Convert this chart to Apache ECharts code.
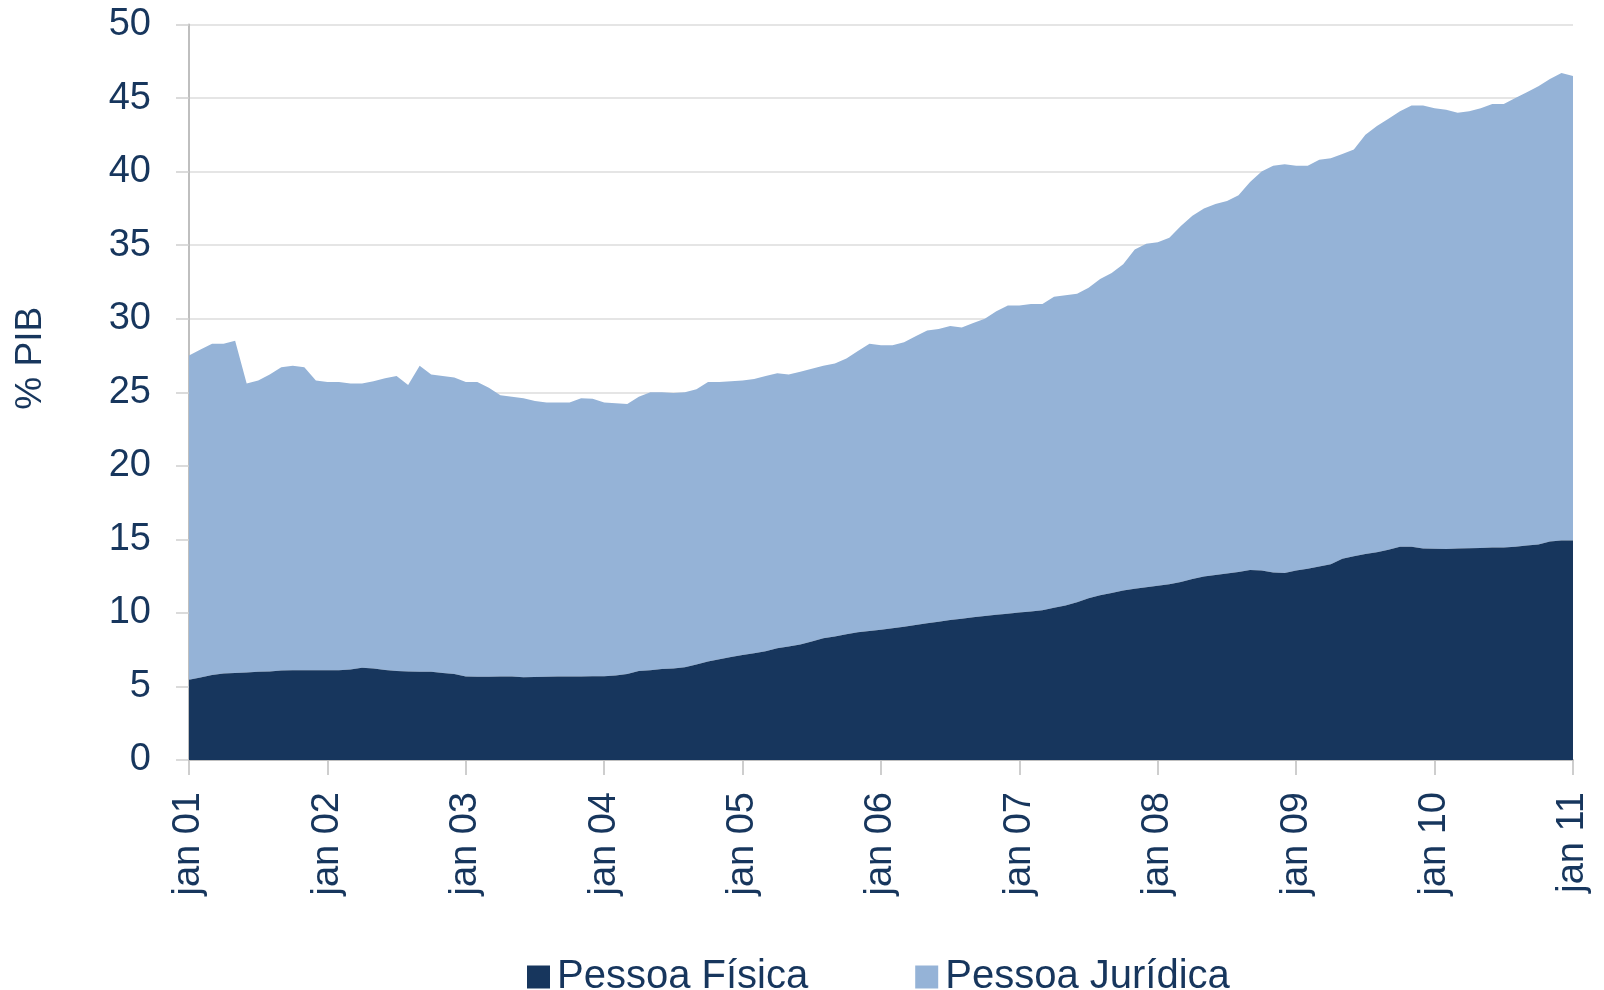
<!DOCTYPE html>
<html>
<head>
<meta charset="utf-8">
<style>
  html, body { margin: 0; padding: 0; background: #ffffff; }
  #chart { width: 1604px; height: 990px; }
</style>
<script src="https://cdn.jsdelivr.net/npm/echarts@6/dist/echarts.min.js"></script>
</head>
<body>
<div id="chart"></div>
<script>
// Month abbreviations (Portuguese) and years covered: jan 01 .. jan 11
const monthNames = ['jan','fev','mar','abr','mai','jun','jul','ago','set','out','nov','dez'];
const years = ['01','02','03','04','05','06','07','08','09','10','11'];

// Pessoa Física (% PIB), monthly from jan 01 to jan 11
const pessoaFisica = [
  5.45, 5.6, 5.78, 5.88, 5.92, 5.95, 6.0, 6.02, 6.08, 6.1, 6.1, 6.1,
  6.1, 6.1, 6.15, 6.27, 6.22, 6.12, 6.05, 6.02, 6.0, 6.0, 5.92, 5.85,
  5.68, 5.66, 5.66, 5.67, 5.68, 5.63, 5.64, 5.66, 5.67, 5.68, 5.68, 5.7,
  5.7, 5.75, 5.85, 6.05, 6.1, 6.18, 6.22, 6.3, 6.5, 6.7, 6.85, 7.0,
  7.14, 7.25, 7.4, 7.6, 7.72, 7.85, 8.05, 8.27, 8.4, 8.55, 8.68, 8.77,
  8.85, 8.95, 9.06, 9.18, 9.29, 9.4, 9.52, 9.6, 9.7, 9.79, 9.88, 9.95,
  10.02, 10.1, 10.18, 10.35, 10.5, 10.72, 11.0, 11.2, 11.35, 11.52, 11.65, 11.75,
  11.85, 11.94, 12.1, 12.3, 12.48, 12.57, 12.68, 12.78, 12.92, 12.88, 12.75, 12.72,
  12.88, 13.0, 13.15, 13.3, 13.68, 13.85, 14.0, 14.12, 14.3, 14.5, 14.5, 14.38,
  14.36, 14.35, 14.38, 14.4, 14.42, 14.44, 14.45, 14.5, 14.58, 14.65, 14.85, 14.92,
  14.92
];

// Pessoa Jurídica (% PIB), monthly from jan 01 to jan 11
const pessoaJuridica = [
  22.05, 22.3, 22.52, 22.42, 22.58, 19.65, 19.8, 20.18, 20.62, 20.7, 20.6, 19.7,
  19.6, 19.6, 19.45, 19.33, 19.53, 19.83, 20.05, 19.48, 20.8, 20.2, 20.18, 20.15,
  20.02, 20.04, 19.64, 19.13, 19.02, 18.97, 18.76, 18.64, 18.63, 18.62, 18.92, 18.85,
  18.6, 18.5, 18.35, 18.65, 18.9, 18.82, 18.73, 18.7, 18.7, 19.0, 18.85, 18.75,
  18.66, 18.65, 18.7, 18.7, 18.48, 18.55, 18.55, 18.53, 18.55, 18.75, 19.12, 19.53,
  19.35, 19.25, 19.34, 19.62, 19.91, 19.9, 19.98, 19.8, 20.0, 20.21, 20.62, 20.95,
  20.88, 20.9, 20.82, 21.15, 21.1, 20.98, 21.1, 21.5, 21.75, 22.18, 23.05, 23.35,
  23.35, 23.56, 24.2, 24.7, 25.02, 25.23, 25.32, 25.62, 26.38, 27.12, 27.65, 27.78,
  27.52, 27.4, 27.65, 27.6, 27.52, 27.65, 28.5, 28.98, 29.3, 29.6, 30.0, 30.12,
  29.94, 29.85, 29.62, 29.7, 29.88, 30.16, 30.15, 30.5, 30.82, 31.15, 31.45, 31.78,
  31.58
];

// Build categories "jan 01", "fev 01", ..., "jan 11"
const categories = [];
years.forEach(function (y, yi) {
  monthNames.forEach(function (m, mi) {
    if (yi === years.length - 1 && mi > 0) return;
    categories.push(m + ' ' + y);
  });
});

const textColor = '#17365d';
const fontFamily = '"Liberation Sans", Arial, sans-serif';

const chart = echarts.init(document.getElementById('chart'), null, { renderer: 'canvas' });
chart.setOption({
  backgroundColor: '#ffffff',
  animation: false,
  grid: { left: 189, right: 31, top: 24.5, bottom: 230, containLabel: false },
  legend: {
    top: 957,
    left: 527,
    padding: 0,
    itemWidth: 23,
    itemHeight: 23,
    itemGap: 107,
    icon: 'rect',
    textStyle: { color: textColor, fontSize: 40, fontFamily: fontFamily, padding: [0, 0, 0, 2] },
    data: ['Pessoa Física', 'Pessoa Jurídica']
  },
  xAxis: {
    type: 'category',
    data: categories,
    boundaryGap: false,
    axisLine: { show: true, lineStyle: { color: '#bfbfbf', width: 2 } },
    axisTick: { show: true, interval: 11, length: 15, lineStyle: { color: '#bfbfbf', width: 1.5 } },
    axisLabel: {
      interval: 11,
      rotate: 90,
      margin: 32,
      color: textColor,
      fontSize: 38,
      fontFamily: fontFamily
    },
    splitLine: { show: false }
  },
  yAxis: {
    type: 'value',
    min: 0,
    max: 50,
    interval: 5,
    name: '% PIB',
    nameLocation: 'middle',
    nameGap: 140,
    nameTextStyle: { color: textColor, fontSize: 37, fontFamily: fontFamily, padding: [0, 0, 0, 68] },
    axisLine: { show: true, lineStyle: { color: '#bfbfbf', width: 2 } },
    axisTick: { show: true, length: 13, lineStyle: { color: '#d0d0d0', width: 1.5 } },
    axisLabel: { margin: 38, color: textColor, fontSize: 38, fontFamily: fontFamily },
    splitLine: { show: true, lineStyle: { color: '#dcdcdc', width: 1.5 } }
  },
  series: [
    {
      name: 'Pessoa Física',
      type: 'line',
      stack: 'total',
      data: pessoaFisica,
      symbol: 'none',
      showSymbol: false,
      lineStyle: { width: 0, color: '#17365d' },
      itemStyle: { color: '#17365d' },
      areaStyle: { color: '#17365d', opacity: 1 },
      z: 3
    },
    {
      name: 'Pessoa Jurídica',
      type: 'line',
      stack: 'total',
      data: pessoaJuridica,
      symbol: 'none',
      showSymbol: false,
      lineStyle: { width: 0, color: '#95b3d7' },
      itemStyle: { color: '#95b3d7' },
      areaStyle: { color: '#95b3d7', opacity: 1 },
      z: 2
    }
  ]
});
</script>
</body>
</html>
